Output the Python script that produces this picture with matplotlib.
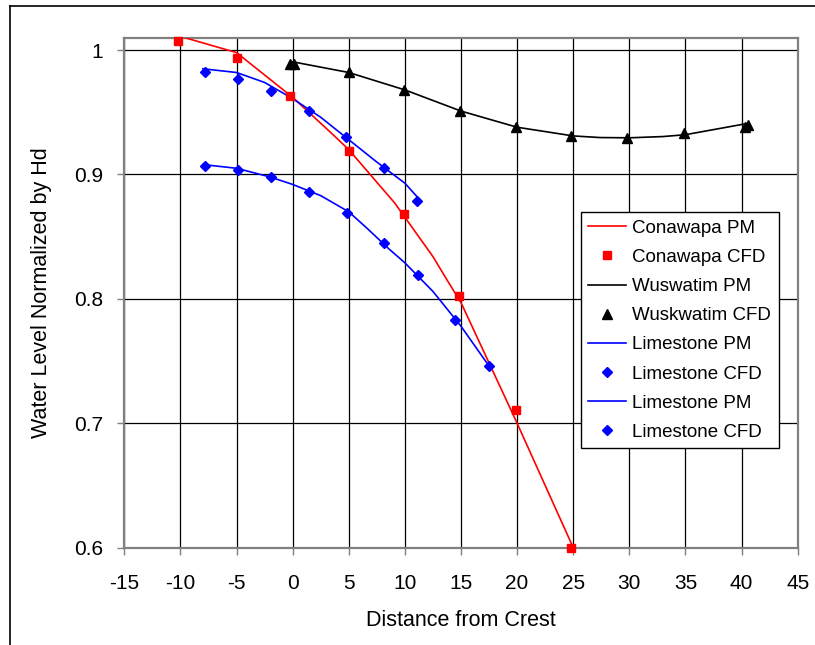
import matplotlib
matplotlib.use('Agg')
import matplotlib.pyplot as plt
from matplotlib.lines import Line2D

plt.rcParams['font.family'] = ['Liberation Sans', 'DejaVu Sans']
plt.rcParams['axes.unicode_minus'] = False

# Conawapa
cona_pm_x = [-10, -5, 0, 3.6, 5, 9.1, 12.5, 13.7, 15, 20, 25]
cona_pm_y = [1.011, 0.998, 0.962, 0.932, 0.920, 0.877, 0.834, 0.816, 0.797, 0.700, 0.600]
cona_cfd_x = [-10.2, -5, -0.2, 5, 9.9, 14.8, 19.9, 24.8]
cona_cfd_y = [1.007, 0.994, 0.963, 0.919, 0.868, 0.802, 0.711, 0.600]

# Wuskwatim
wusk_pm_x = [0, 5, 10, 15, 17.3, 20, 25, 27.4, 30, 33, 35, 40.5]
wusk_pm_y = [0.9906, 0.982, 0.968, 0.951, 0.945, 0.938, 0.931, 0.9297, 0.9295, 0.9305, 0.932, 0.941]
wusk_cfd_x = [-0.2, 0.1, 5, 9.9, 14.9, 19.9, 24.8, 29.8, 34.9, 40.3, 40.6]
wusk_cfd_y = [0.989, 0.989, 0.982, 0.968, 0.951, 0.938, 0.931, 0.9297, 0.933, 0.938, 0.940]

# Limestone (upper)
lime1_pm_x = [-8, -5, -2.5, 0, 2.5, 5, 7.5, 10, 11.1]
lime1_pm_y = [0.985, 0.982, 0.974, 0.961, 0.946, 0.928, 0.910, 0.893, 0.882]
lime1_cfd_x = [-7.8, -4.9, -1.9, 1.5, 4.75, 8.1, 11.1]
lime1_cfd_y = [0.982, 0.977, 0.967, 0.951, 0.930, 0.905, 0.879]

# Limestone (lower)
lime2_pm_x = [-8, -5, -2, 0, 2.5, 5, 6.6, 8.6, 10, 12.5, 15, 17.5]
lime2_pm_y = [0.908, 0.905, 0.898, 0.892, 0.883, 0.870, 0.857, 0.840, 0.829, 0.806, 0.778, 0.746]
lime2_cfd_x = [-7.8, -4.9, -1.9, 1.5, 4.8, 8.1, 11.2, 14.5, 17.5]
lime2_cfd_y = [0.907, 0.904, 0.898, 0.886, 0.869, 0.845, 0.819, 0.783, 0.746]

x_ticks = [-15, -10, -5, 0, 5, 10, 15, 20, 25, 30, 35, 40, 45]
y_ticks = [0.6, 0.7, 0.8, 0.9, 1.0]
y_labels = ['0.6', '0.7', '0.8', '0.9', '1']

fig = plt.figure(figsize=(8.15, 6.45), dpi=100)
ax = fig.add_axes([0.1525, 0.1509, 0.8263, 0.7907])

ax.plot(cona_pm_x, cona_pm_y, color='#ff0000', lw=1.2, label='Conawapa PM', zorder=3)
ax.plot(cona_cfd_x, cona_cfd_y, ls='none', marker='s', ms=6, color='#ff0000', label='Conawapa CFD', zorder=4, clip_on=False)
ax.plot(wusk_pm_x, wusk_pm_y, color='black', lw=1.2, label='Wuswatim PM', zorder=3)
ax.plot(wusk_cfd_x, wusk_cfd_y, ls='none', marker='^', ms=7, color='black', label='Wuskwatim CFD', zorder=4, clip_on=False)
ax.plot(lime1_pm_x, lime1_pm_y, color='#0000ff', lw=1.2, label='Limestone PM', zorder=3)
ax.plot(lime1_cfd_x, lime1_cfd_y, ls='none', marker='D', ms=5.5, color='#0000ff', label='Limestone CFD', zorder=4)
ax.plot(lime2_pm_x, lime2_pm_y, color='#0000ff', lw=1.2, label='Limestone PM', zorder=3)
ax.plot(lime2_cfd_x, lime2_cfd_y, ls='none', marker='D', ms=5.5, color='#0000ff', label='Limestone CFD', zorder=4)

ax.set_xlim(-15, 45)
ax.set_ylim(0.6, 1.01)
ax.set_xticks(x_ticks)
ax.set_yticks(y_ticks)
ax.set_yticklabels(y_labels)
ax.tick_params(labelsize=15, direction='out', length=5, width=1, color='#808080')
ax.tick_params(axis='x', pad=14)
ax.tick_params(axis='y', pad=10)
ax.grid(True, color='black', lw=0.9)
ax.set_axisbelow(True)
for s in ax.spines.values():
    s.set_color('#808080')
    s.set_linewidth(1.6)

ax.set_xlabel('Distance from Crest', fontsize=15.5, labelpad=12)
ax.set_ylabel('Water Level Normalized by Hd', fontsize=15.5, labelpad=16)

leg = ax.legend(loc='upper left', bbox_to_anchor=(0.678, 0.6576), borderaxespad=0,
                fontsize=13.5, frameon=True, fancybox=False, framealpha=1,
                edgecolor='black', handlelength=2.0, labelspacing=0.64,
                handletextpad=0.35, borderpad=0.4, numpoints=1)
leg.get_frame().set_linewidth(1)

# outer chart border (left and top edges visible)
fig.add_artist(Line2D([10/815, 10/815], [0, 1 - 6/645], color='black', lw=1.2))
fig.add_artist(Line2D([10/815, 1], [1 - 6/645, 1 - 6/645], color='black', lw=1.2))

fig.savefig('out.png', dpi=100)
